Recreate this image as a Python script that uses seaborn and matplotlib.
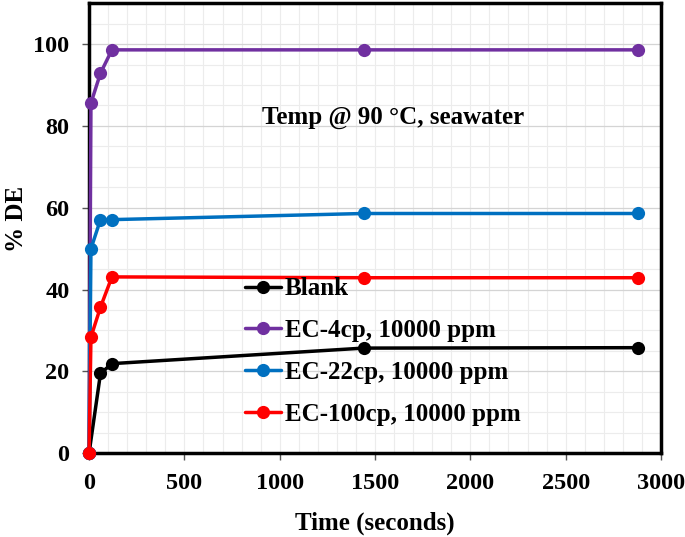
import numpy as np
import pandas as pd
import matplotlib.pyplot as plt
import seaborn as sns
from matplotlib.ticker import MultipleLocator

# data
time_blank = [0, 60, 120, 1440, 2880]
de_blank = [0, 19.5, 21.9, 25.7, 25.8]

time_ec = [0, 10, 60, 120, 1440, 2880]
de_ec4 = [0, 85.6, 92.9, 98.6, 98.6, 98.6]
de_ec22 = [0, 50.0, 57.1, 57.1, 58.6, 58.6]
de_ec100 = [0, 28.4, 35.7, 43.1, 42.9, 42.9]

labels = ["Blank", "EC-4cp, 10000 ppm", "EC-22cp, 10000 ppm", "EC-100cp, 10000 ppm"]
colors = ["#000000", "#7030A0", "#0070C0", "#FF0000"]

sns.set_style("white")
plt.rcParams["font.family"] = ["Liberation Serif", "DejaVu Serif"]
plt.rcParams["font.weight"] = "bold"
plt.rcParams["text.color"] = "black"
plt.rcParams["axes.labelcolor"] = "black"
plt.rcParams["xtick.labelcolor"] = "black"
plt.rcParams["ytick.labelcolor"] = "black"

fig = plt.figure(figsize=(6.85, 5.37), dpi=100)
ax = fig.add_axes([0.130, 0.156, 0.835, 0.838])

series = [(time_blank, de_blank), (time_ec, de_ec4), (time_ec, de_ec22), (time_ec, de_ec100)]
for (t, v), lab, c in zip(series, labels, colors):
    sns.lineplot(x=t, y=v, ax=ax, color=c, label=lab, marker="o", markersize=9.5,
                 markeredgewidth=0, linewidth=2.5, sort=False, zorder=3, clip_on=False)

ax.set_xlim(0, 3000)
ax.set_ylim(0, 110)
ax.xaxis.set_major_locator(MultipleLocator(500))
ax.xaxis.set_minor_locator(MultipleLocator(100))
ax.yaxis.set_major_locator(MultipleLocator(20))
ax.yaxis.set_minor_locator(MultipleLocator(5))
ax.grid(which="minor", color="#ececec", linewidth=0.8)
ax.grid(which="major", axis="y", color="#d4d4d4", linewidth=0.9)
ax.grid(which="major", axis="x", color="#ececec", linewidth=0.8)
ax.set_axisbelow(True)

for s in ax.spines.values():
    s.set_color("black")
    s.set_linewidth(2.5)
ax.tick_params(which="major", direction="out", length=5, width=1, color="#555555",
               labelsize=17.5, pad=9, bottom=True, left=True)
ax.tick_params(which="minor", length=0)
for lab in ax.get_xticklabels() + ax.get_yticklabels():
    lab.set_fontweight("bold")

ax.set_xlabel("Time (seconds)", fontsize=18, fontweight="bold", labelpad=13)
ax.set_ylabel("% DE", fontsize=18, fontweight="bold")
ax.yaxis.set_label_coords(-0.106, 0.52)

ax.text(0.302, 0.747, "Temp @ 90 °C, seawater", transform=ax.transAxes,
        fontsize=18, fontweight="bold", ha="left", va="center")

ax.legend(loc="center left", bbox_to_anchor=(0.272, 0.226), frameon=False,
          prop={"size": 18, "weight": "bold"}, labelspacing=0.75, borderpad=0,
          handlelength=1.45, handletextpad=0.15, borderaxespad=0)

plt.savefig("out.png", dpi=100)
